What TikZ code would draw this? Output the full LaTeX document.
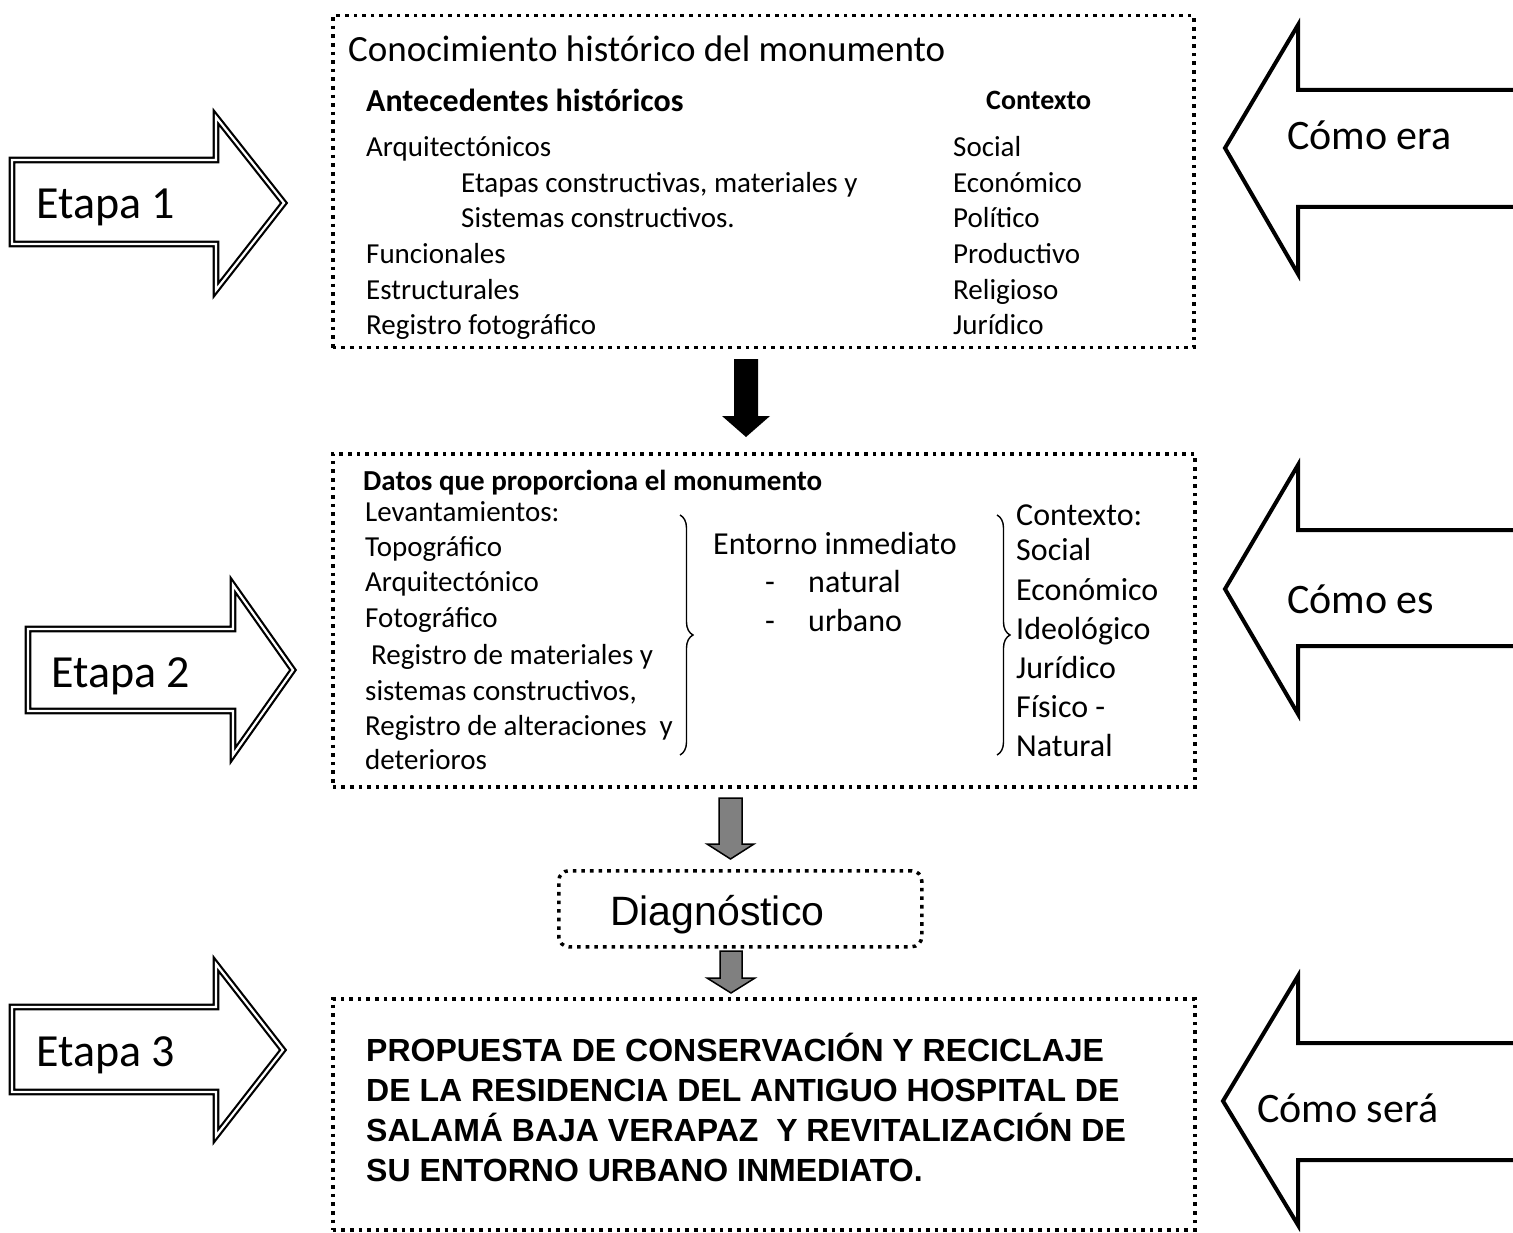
\documentclass[tikz,border=0pt]{standalone}
\usepackage{fontspec}
\setmainfont{Carlito}
\newfontfamily\arialfont{Liberation Sans}
\usetikzlibrary{decorations.pathreplacing}
\begin{document}
\begin{tikzpicture}[x=1pt,y=-1pt,
  dotbox/.style={draw, line width=3.5pt, dash pattern=on 3.6pt off 5pt, inner sep=0pt, anchor=north west},
  tx/.style={anchor=base west, inner sep=0pt, font=\fontsize{29}{35}\selectfont},
  txb/.style={anchor=base west, inner sep=0pt, font=\fontsize{29}{35}\selectfont\bfseries},
  txl/.style={anchor=base west, inner sep=0pt, font=\fontsize{32}{39}\selectfont},
  big/.style={anchor=base west, inner sep=0pt, font=\fontsize{46}{55}\selectfont},
  como/.style={anchor=base west, inner sep=0pt, font=\fontsize{42}{50}\selectfont},
  prop/.style={anchor=base west, inner sep=0pt, font=\arialfont\bfseries\fontsize{32}{40}\selectfont},
  etapaarrow/.style={draw=black, line width=2.2pt, double=white, double distance=2.2pt, line join=miter},
  comoarrow/.style={draw=black, line width=4pt, line join=miter},
  grayarrow/.style={fill={rgb,255:red,128;green,128;blue,128}, draw=black, line width=1.5pt, line join=miter},
  bracestyle/.style={draw, line width=1.4pt, decorate, decoration={brace, amplitude=13pt}}
]
\useasboundingbox (0,0) rectangle (1513,1233);

% ---------- boxes ----------
\node[dotbox, minimum width=861pt, minimum height=332pt] (box1) at (331,14) {};
\node[dotbox, minimum width=862pt, minimum height=333pt] (box2) at (331,452) {};
\node[dotbox, minimum width=862pt, minimum height=231pt] (box3) at (331,997) {};
\node[dotbox, rounded corners=10pt, minimum width=363pt, minimum height=76pt] (diag) at (557,869) {};

% ---------- box 1 text ----------
\node[anchor=base west, inner sep=0pt, font=\fontsize{37}{44}\selectfont] (t1) at (348,62) {Conocimiento histórico del monumento};
\node[anchor=base west, inner sep=0pt, font=\fontsize{32}{39}\selectfont\bfseries] (t2) at (366,112) {Antecedentes históricos};
\node[tx] (a1) at (366,157) {Arquitectónicos};
\node[tx] (a2) at (461,193) {Etapas constructivas, materiales y};
\node[tx] (a3) at (461,228) {Sistemas constructivos.};
\node[tx] (a4) at (366,264) {Funcionales};
\node[tx] (a5) at (366,300) {Estructurales};
\node[tx] (a6) at (366,335) {Registro fotográfico};
\node[anchor=base west, inner sep=0pt, font=\fontsize{28}{34}\selectfont\bfseries] (c0) at (986,110) {Contexto};
\node[tx] (c1) at (953,157) {Social};
\node[tx] (c2) at (953,193) {Económico};
\node[tx] (c3) at (953,228) {Político};
\node[tx] (c4) at (953,264) {Productivo};
\node[tx] (c5) at (953,300) {Religioso};
\node[tx] (c6) at (953,335) {Jurídico};

% ---------- box 2 text ----------
\node[txb] (d0) at (363,490) {Datos que proporciona el monumento};
\node[tx] (d1) at (365,521) {Levantamientos:};
\node[tx] (d2) at (365,556) {Topográfico};
\node[tx] (d3) at (365,591) {Arquitectónico};
\node[tx] (d4) at (365,627) {Fotográfico};
\node[tx] (d5) at (371,664) {Registro de materiales y};
\node[tx] (d6) at (365,700) {sistemas constructivos,};
\node[tx] (d7) at (365,735) {Registro de alteraciones\ \ y};
\node[tx] (d8) at (365,769) {deterioros};

\node[txl] (e0) at (713,554) {Entorno inmediato};
\node[txl] (e1) at (765,592) {-};
\node[txl] (e2) at (808,592) {natural};
\node[txl] (e3) at (765,631) {-};
\node[txl] (e4) at (808,631) {urbano};

\node[txl] (k0) at (1016,525) {Contexto:};
\node[txl] (k1) at (1016,560) {Social};
\node[txl] (k2) at (1016,600) {Económico};
\node[txl] (k3) at (1016,639) {Ideológico};
\node[txl] (k4) at (1016,678) {Jurídico};
\node[txl] (k5) at (1016,717) {Físico -};
\node[txl] (k6) at (1016,756) {Natural};

\coordinate (b1t) at (680,515);
\coordinate (b1b) at (680,755);
\coordinate (b2t) at (997,515);
\coordinate (b2b) at (997,755);
\draw[bracestyle] (b1t) -- (b1b);
\draw[bracestyle] (b2t) -- (b2b);

% ---------- diagnostico ----------
\node[anchor=base west, inner sep=0pt, font=\arialfont\fontsize{41}{48}\selectfont] (dg) at (610,925) {Diagnóstico};

% ---------- box 3 text ----------
\node[prop] (p1) at (366,1061) {PROPUESTA DE CONSERVACIÓN Y RECICLAJE};
\node[prop] (p2) at (366,1101) {DE LA RESIDENCIA DEL ANTIGUO HOSPITAL DE};
\node[prop] (p3) at (366,1141) {SALAMÁ BAJA VERAPAZ\ \ Y REVITALIZACIÓN DE};
\node[prop] (p4) at (366,1181) {SU ENTORNO URBANO INMEDIATO.};

% ---------- down arrows ----------
\fill[black] (734,359) -- (758,359) -- (758,416) -- (770,416) -- (746,437) -- (722,416) -- (734,416) -- cycle;
\draw[grayarrow] (719,798) -- (742,798) -- (742,844) -- (754,844) -- (730.5,859) -- (707,844) -- (719,844) -- cycle;
\draw[grayarrow] (720,951) -- (742,951) -- (742,978) -- (755,978) -- (731,993) -- (707,978) -- (720,978) -- cycle;

% ---------- Etapa arrows ----------
\draw[etapaarrow] (12,160) -- (216,160) -- (216,117) -- (284,203) -- (216,290) -- (216,244) -- (12,244) -- cycle;
\node[big] (et1) at (36,219) {Etapa 1};
\draw[etapaarrow] (28,629) -- (233,629) -- (233,585) -- (293,670) -- (233,755) -- (233,711) -- (28,711) -- cycle;
\node[big] (et2) at (51,687) {Etapa 2};
\draw[etapaarrow] (12,1007) -- (216,1007) -- (216,964) -- (283,1050) -- (216,1136) -- (216,1092) -- (12,1092) -- cycle;
\node[big] (et3) at (36,1066) {Etapa 3};

% ---------- Como arrows ----------
\draw[comoarrow] (1520,90) -- (1298,90) -- (1298,25) -- (1225,148) -- (1298,274) -- (1298,207) -- (1520,207);
\node[como] (ce1) at (1287,150) {Cómo era};
\draw[comoarrow] (1520,530) -- (1298,530) -- (1298,465) -- (1225,589) -- (1298,714) -- (1298,646) -- (1520,646);
\node[como] (ce2) at (1287,613) {Cómo es};
\draw[comoarrow] (1520,1043) -- (1298,1043) -- (1298,976) -- (1223,1101) -- (1298,1225) -- (1298,1160) -- (1520,1160);
\node[como] (ce3) at (1257,1122) {Cómo será};
\end{tikzpicture}
\end{document}
